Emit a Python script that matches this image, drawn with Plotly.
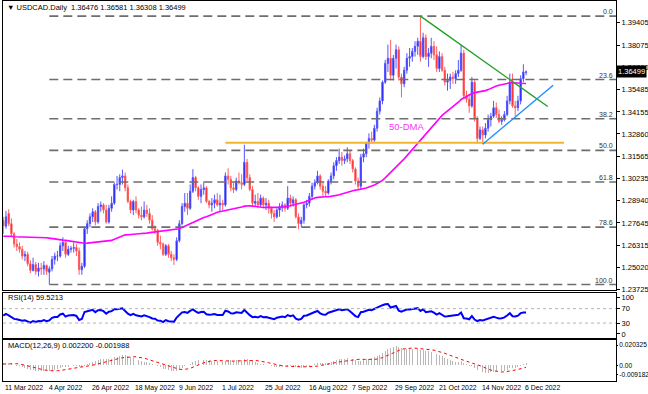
import numpy as np
import pandas as pd
import plotly.graph_objects as go

# ---------------- data ----------------
tick_labels = ["11 Mar 2022", "4 Apr 2022", "26 Apr 2022", "18 May 2022", "9 Jun 2022",
               "1 Jul 2022", "25 Jul 2022", "16 Aug 2022", "7 Sep 2022", "29 Sep 2022",
               "21 Oct 2022", "14 Nov 2022", "6 Dec 2022"]
tick_index = [0, 16, 32, 48, 64, 80, 96, 112, 128, 144, 160, 176, 192]

# closes before the first visible bar (used only to warm up the indicators)
warmup_closes = [1.2770, 1.2740, 1.2760, 1.2770, 1.2640, 1.2660, 1.2580, 1.2530, 1.2520, 1.2560,
                 1.2510, 1.2490, 1.2480, 1.2500, 1.2570, 1.2630, 1.2630, 1.2690, 1.2750, 1.2730,
                 1.2710, 1.2670, 1.2660, 1.2720, 1.2750, 1.2710, 1.2690, 1.2690, 1.2690, 1.2760,
                 1.2730, 1.2720, 1.2690, 1.2740, 1.2740, 1.2740, 1.2750, 1.2770, 1.2770, 1.2740,
                 1.2680, 1.2680, 1.2660, 1.2640, 1.2730, 1.2860, 1.2830, 1.2750, 1.2780]

opens = [1.2780, 1.2745, 1.2820, 1.2760, 1.2700, 1.2640, 1.2625, 1.2610, 1.2570, 1.2580,
         1.2525, 1.2485, 1.2520, 1.2480, 1.2500, 1.2495, 1.2515, 1.2475, 1.2495, 1.2550,
         1.2570, 1.2570, 1.2630, 1.2650, 1.2580, 1.2610, 1.2615, 1.2620, 1.2600, 1.2490,
         1.2510, 1.2730, 1.2760, 1.2800, 1.2830, 1.2770, 1.2860, 1.2870, 1.2840, 1.2770,
         1.2850, 1.2880, 1.2990, 1.2990, 1.3030, 1.3040, 1.2970, 1.2890, 1.2840, 1.2890,
         1.2840, 1.2810, 1.2800, 1.2840, 1.2820, 1.2780, 1.2730, 1.2720, 1.2650, 1.2640,
         1.2580, 1.2630, 1.2580, 1.2560, 1.2550, 1.2660, 1.2760, 1.2860, 1.2880, 1.2850,
         1.2950, 1.3030, 1.2970, 1.2920, 1.2960, 1.2970, 1.2890, 1.2870, 1.2880, 1.2900,
         1.2870, 1.2880, 1.2870, 1.3040, 1.3020, 1.2970, 1.2960, 1.3010, 1.3000, 1.2990,
         1.3120, 1.3030, 1.2960, 1.2880, 1.2890, 1.2870, 1.2910, 1.2870, 1.2880, 1.2850,
         1.2820, 1.2800, 1.2840, 1.2860, 1.2870, 1.2850, 1.2910, 1.2880, 1.2900, 1.2800,
         1.2760, 1.2780, 1.2870, 1.2880, 1.2920, 1.2980, 1.3000, 1.3040, 1.2980, 1.2950,
         1.2940, 1.3010, 1.3040, 1.3100, 1.3130, 1.3150, 1.3130, 1.3140, 1.3170, 1.3130,
         1.3080, 1.3010, 1.2980, 1.3150, 1.3170, 1.3230, 1.3260, 1.3250, 1.3320, 1.3420,
         1.3480, 1.3590, 1.3700, 1.3730, 1.3630, 1.3730, 1.3780, 1.3620, 1.3580, 1.3660,
         1.3730, 1.3740, 1.3770, 1.3800, 1.3830, 1.3740, 1.3850, 1.3740, 1.3760, 1.3800,
         1.3750, 1.3670, 1.3740, 1.3660, 1.3590, 1.3600, 1.3620, 1.3610, 1.3640, 1.3660,
         1.3760, 1.3510, 1.3490, 1.3450, 1.3590, 1.3380, 1.3260, 1.3310, 1.3280, 1.3320,
         1.3370, 1.3390, 1.3440, 1.3400, 1.3360, 1.3370, 1.3400, 1.3480, 1.3590, 1.3450,
         1.3440, 1.3480, 1.3610, 1.36476]

highs = [1.2800, 1.2835, 1.2845, 1.2790, 1.2710, 1.2670, 1.2650, 1.2630, 1.2600, 1.2595,
         1.2545, 1.2560, 1.2535, 1.2530, 1.2530, 1.2540, 1.2520, 1.2510, 1.2570, 1.2590,
         1.2600, 1.2650, 1.2680, 1.2665, 1.2630, 1.2630, 1.2650, 1.2640, 1.2620, 1.2530,
         1.2740, 1.2780, 1.2820, 1.2850, 1.2840, 1.2880, 1.2890, 1.2880, 1.2870, 1.2870,
         1.2920, 1.3000, 1.3040, 1.3050, 1.3077, 1.3060, 1.2990, 1.2900, 1.2900, 1.2920,
         1.2850, 1.2860, 1.2890, 1.2870, 1.2850, 1.2810, 1.2750, 1.2730, 1.2690, 1.2650,
         1.2640, 1.2640, 1.2600, 1.2580, 1.2680, 1.2780, 1.2880, 1.2940, 1.2940, 1.2990,
         1.3080, 1.3040, 1.2980, 1.2990, 1.3000, 1.2980, 1.2900, 1.2910, 1.2930, 1.2940,
         1.2930, 1.2900, 1.3060, 1.3085, 1.3040, 1.3000, 1.3030, 1.3060, 1.3050, 1.3223,
         1.3140, 1.3050, 1.2980, 1.2930, 1.2940, 1.2930, 1.2920, 1.2910, 1.2900, 1.2860,
         1.2840, 1.2850, 1.2880, 1.2890, 1.2880, 1.2980, 1.2930, 1.2920, 1.2910, 1.2820,
         1.2800, 1.2880, 1.2900, 1.2940, 1.3000, 1.3020, 1.3070, 1.3050, 1.3000, 1.2980,
         1.3020, 1.3060, 1.3120, 1.3150, 1.3200, 1.3180, 1.3160, 1.3208, 1.3190, 1.3140,
         1.3090, 1.3030, 1.3170, 1.3200, 1.3240, 1.3290, 1.3300, 1.3340, 1.3440, 1.3500,
         1.3600, 1.3720, 1.3810, 1.3838, 1.3750, 1.3810, 1.3800, 1.3640, 1.3680, 1.3760,
         1.3790, 1.3790, 1.3830, 1.3850, 1.3977, 1.3880, 1.3870, 1.3790, 1.3850, 1.3830,
         1.3800, 1.3770, 1.3760, 1.3680, 1.3640, 1.3640, 1.3650, 1.3660, 1.3720, 1.3808,
         1.3780, 1.3540, 1.3520, 1.3620, 1.3600, 1.3390, 1.3330, 1.3330, 1.3350, 1.3400,
         1.3410, 1.3480, 1.3470, 1.3430, 1.3390, 1.3420, 1.3510, 1.3640, 1.3640, 1.3480,
         1.3510, 1.3630, 1.3695, 1.36581]

lows = [1.2700, 1.2730, 1.2745, 1.2680, 1.2620, 1.2600, 1.2590, 1.2550, 1.2540, 1.2510,
        1.2470, 1.2480, 1.2460, 1.2450, 1.2460, 1.2460, 1.2460, 1.2403, 1.2480, 1.2520,
        1.2540, 1.2560, 1.2600, 1.2560, 1.2570, 1.2590, 1.2590, 1.2570, 1.2460, 1.2460,
        1.2500, 1.2700, 1.2740, 1.2770, 1.2750, 1.2760, 1.2830, 1.2820, 1.2760, 1.2760,
        1.2830, 1.2870, 1.2960, 1.2950, 1.2990, 1.2950, 1.2880, 1.2820, 1.2810, 1.2820,
        1.2790, 1.2780, 1.2790, 1.2800, 1.2760, 1.2720, 1.2700, 1.2630, 1.2610, 1.2570,
        1.2570, 1.2560, 1.2540, 1.2518, 1.2540, 1.2650, 1.2750, 1.2830, 1.2810, 1.2840,
        1.2940, 1.2950, 1.2900, 1.2880, 1.2930, 1.2880, 1.2850, 1.2830, 1.2850, 1.2860,
        1.2830, 1.2840, 1.2860, 1.2990, 1.2950, 1.2940, 1.2950, 1.2990, 1.2960, 1.2980,
        1.3010, 1.2950, 1.2860, 1.2860, 1.2850, 1.2860, 1.2850, 1.2840, 1.2820, 1.2790,
        1.2770, 1.2790, 1.2800, 1.2830, 1.2830, 1.2840, 1.2860, 1.2860, 1.2790, 1.2728,
        1.2740, 1.2760, 1.2850, 1.2860, 1.2900, 1.2960, 1.2990, 1.2960, 1.2920, 1.2920,
        1.2930, 1.2990, 1.3020, 1.3070, 1.3110, 1.3100, 1.3110, 1.3120, 1.3110, 1.3060,
        1.2990, 1.2955, 1.2960, 1.3120, 1.3150, 1.3200, 1.3230, 1.3240, 1.3300, 1.3400,
        1.3460, 1.3580, 1.3650, 1.3600, 1.3600, 1.3670, 1.3600, 1.3500, 1.3560, 1.3640,
        1.3680, 1.3710, 1.3740, 1.3750, 1.3710, 1.3730, 1.3720, 1.3680, 1.3730, 1.3720,
        1.3650, 1.3650, 1.3650, 1.3570, 1.3540, 1.3550, 1.3580, 1.3580, 1.3620, 1.3650,
        1.3490, 1.3470, 1.3410, 1.3440, 1.3360, 1.3230, 1.3250, 1.3226, 1.3260, 1.3300,
        1.3330, 1.3380, 1.3380, 1.3350, 1.3340, 1.3360, 1.3390, 1.3460, 1.3440, 1.3390,
        1.3420, 1.3460, 1.3590, 1.36308]

closes = [1.2745, 1.2800, 1.2760, 1.2700, 1.2640, 1.2625, 1.2610, 1.2570, 1.2580, 1.2525,
          1.2485, 1.2520, 1.2480, 1.2500, 1.2495, 1.2515, 1.2480, 1.2495, 1.2550, 1.2570,
          1.2570, 1.2630, 1.2650, 1.2580, 1.2610, 1.2615, 1.2620, 1.2600, 1.2490, 1.2510,
          1.2730, 1.2760, 1.2800, 1.2830, 1.2770, 1.2860, 1.2870, 1.2840, 1.2770, 1.2850,
          1.2880, 1.2990, 1.2990, 1.3030, 1.3040, 1.2970, 1.2890, 1.2840, 1.2890, 1.2840,
          1.2810, 1.2800, 1.2840, 1.2820, 1.2780, 1.2730, 1.2720, 1.2650, 1.2640, 1.2580,
          1.2630, 1.2580, 1.2560, 1.2550, 1.2660, 1.2760, 1.2860, 1.2880, 1.2850, 1.2950,
          1.3030, 1.2970, 1.2920, 1.2960, 1.2970, 1.2890, 1.2870, 1.2880, 1.2900, 1.2870,
          1.2880, 1.2870, 1.3040, 1.3020, 1.2970, 1.2960, 1.3010, 1.3000, 1.2990, 1.3120,
          1.3030, 1.2960, 1.2880, 1.2890, 1.2870, 1.2910, 1.2870, 1.2880, 1.2850, 1.2820,
          1.2800, 1.2840, 1.2860, 1.2870, 1.2850, 1.2910, 1.2880, 1.2900, 1.2800, 1.2760,
          1.2780, 1.2870, 1.2880, 1.2920, 1.2980, 1.3000, 1.3040, 1.2980, 1.2950, 1.2940,
          1.3010, 1.3040, 1.3100, 1.3130, 1.3150, 1.3130, 1.3140, 1.3170, 1.3130, 1.3080,
          1.3010, 1.2980, 1.3150, 1.3170, 1.3230, 1.3260, 1.3250, 1.3320, 1.3420, 1.3480,
          1.3590, 1.3700, 1.3730, 1.3630, 1.3730, 1.3780, 1.3620, 1.3580, 1.3660, 1.3730,
          1.3740, 1.3770, 1.3800, 1.3830, 1.3740, 1.3850, 1.3740, 1.3760, 1.3800, 1.3750,
          1.3670, 1.3740, 1.3660, 1.3590, 1.3600, 1.3620, 1.3610, 1.3640, 1.3660, 1.3760,
          1.3510, 1.3490, 1.3450, 1.3590, 1.3380, 1.3260, 1.3310, 1.3280, 1.3320, 1.3370,
          1.3390, 1.3440, 1.3400, 1.3360, 1.3370, 1.3400, 1.3480, 1.3590, 1.3450, 1.3440,
          1.3480, 1.3610, 1.3650, 1.36499]

header_text = "\u25bc USDCAD.Daily  1.36476 1.36581 1.36308 1.36499"
rsi_text = "RSI(14) 59.5213"
macd_text = "MACD(12,26,9) 0.002200 -0.001988"

fib_high, fib_low = 1.3977, 1.2403
fib_levels = [0.0, 23.6, 38.2, 50.0, 61.8, 78.6, 100.0]
fib_start_bar = 17

price_ticks = [1.39405, 1.38075, 1.36780, 1.35485, 1.34155, 1.32860, 1.31565,
               1.30235, 1.28940, 1.27645, 1.26315, 1.25020, 1.23725]
rsi_ticks = [100, 70, 30, 0]
macd_ticks = [0.020325, 0.0, -0.009182]
macd_ticktext = ["0.020325", "0.00", "-0.009182"]

support_price, support_from, support_to = 1.3234, 82, 207
down_trend_x, down_trend_y = [154, 201], [1.3977, 1.3447]
up_trend_x, up_trend_y = [177, 203], [1.3226, 1.3572]
dma_label_bar, dma_label_price = 149, 1.3331

# ---------------- indicators ----------------
n = len(closes)
W = len(warmup_closes)
all_c = pd.Series(warmup_closes + closes)
dma50 = all_c.rolling(50).mean().values[W:]

diff = all_c.diff().values[1:]
gain = np.where(diff > 0, diff, 0.0)
loss = np.where(diff < 0, -diff, 0.0)
ag, al = gain[:14].mean(), loss[:14].mean()
rsi_all = [np.nan] * 15
for g, l in zip(gain[14:], loss[14:]):
    ag = (ag * 13 + g) / 14
    al = (al * 13 + l) / 14
    rsi_all.append(100 - 100 / (1 + ag / al) if al > 0 else 100)
rsi = np.array(rsi_all)[W:]

ema12 = all_c.ewm(span=12, adjust=False).mean()
ema26 = all_c.ewm(span=26, adjust=False).mean()
macd_all = ema12 - ema26
signal_all = macd_all.rolling(9).mean()
macd = macd_all.values[W:]
signal = signal_all.values[W:]

x = list(range(n))

# ---------------- figure ----------------
fig = go.Figure()
fig.add_trace(go.Candlestick(
    x=x, open=opens, high=highs, low=lows, close=closes,
    increasing=dict(line=dict(color="#5555ff", width=1), fillcolor="#0000ff"),
    decreasing=dict(line=dict(color="#ff6060", width=1), fillcolor="#ff0000"),
    whiskerwidth=0, xaxis="x", yaxis="y", hoverinfo="skip"))
fig.add_trace(go.Scatter(x=x, y=dma50, mode="lines", line=dict(color="#ff00ff", width=1.6),
                         xaxis="x", yaxis="y", hoverinfo="skip"))
fig.add_trace(go.Scatter(x=x, y=rsi, mode="lines", line=dict(color="#0000ff", width=2),
                         xaxis="x2", yaxis="y2", hoverinfo="skip"))
fig.add_trace(go.Bar(x=x, y=macd, width=0.35, marker=dict(color="#b8b8b8", line=dict(width=0)),
                     xaxis="x3", yaxis="y3", hoverinfo="skip"))
fig.add_trace(go.Scatter(x=x, y=signal, mode="lines",
                         line=dict(color="#ff0000", width=1, dash="dot"),
                         xaxis="x3", yaxis="y3", hoverinfo="skip"))

shapes = []
rng = fib_high - fib_low
for lv in fib_levels:
    p = fib_high - rng * lv / 100.0
    shapes.append(dict(type="line", xref="x", yref="y", x0=fib_start_bar, x1=230, y0=p, y1=p,
                       line=dict(color="#6e6e6e", width=1.6, dash="9px,5px")))
shapes.append(dict(type="line", xref="x", yref="y", x0=support_from, x1=support_to,
                   y0=support_price, y1=support_price,
                   line=dict(color="#f2b62c", width=2)))
shapes.append(dict(type="line", xref="x", yref="y", x0=down_trend_x[0], x1=down_trend_x[1],
                   y0=down_trend_y[0], y1=down_trend_y[1], line=dict(color="#22a022", width=1.4)))
shapes.append(dict(type="line", xref="x", yref="y", x0=up_trend_x[0], x1=up_trend_x[1],
                   y0=up_trend_y[0], y1=up_trend_y[1], line=dict(color="#1e90ff", width=1.4)))
for lv in (70, 30):
    shapes.append(dict(type="line", xref="x2 domain", yref="y2", x0=0, x1=1, y0=lv, y1=lv,
                       line=dict(color="#b4b4b4", width=1, dash="dot")))

FONT = "Liberation Sans, Arial, sans-serif"
annotations = []
annotations.append(dict(xref="paper", yref="paper", x=0.003, y=0.984, xanchor="left",
                        yanchor="middle", text=header_text, showarrow=False,
                        font=dict(family=FONT, size=7.5, color="#000")))
annotations.append(dict(xref="paper", yref="paper", x=0.005, y=0.219, xanchor="left",
                        yanchor="middle", text=rsi_text, showarrow=False,
                        font=dict(family=FONT, size=7.5, color="#000")))
annotations.append(dict(xref="paper", yref="paper", x=0.005, y=0.094, xanchor="left",
                        yanchor="middle", text=macd_text, showarrow=False,
                        font=dict(family=FONT, size=7.5, color="#000")))
for lv in fib_levels:
    p = fib_high - rng * lv / 100.0
    annotations.append(dict(xref="paper", yref="y", x=0.997, y=p, xanchor="right",
                            yanchor="bottom", text=f"{lv:.1f}", showarrow=False,
                            font=dict(family=FONT, size=7, color="#333"), borderpad=0))
annotations.append(dict(xref="x", yref="y", x=dma_label_bar, y=dma_label_price, text="50-DMA",
                        showarrow=False, font=dict(family=FONT, size=9.5, color="#ff33ff")))
annotations.append(dict(xref="paper", yref="y", x=1.0, y=closes[-1], xanchor="left",
                        yanchor="middle", text=f"{closes[-1]:.5f}", showarrow=False,
                        bgcolor="#000000", borderpad=1,
                        font=dict(family=FONT, size=7.5, color="#ffffff")))
for i, lab in zip(tick_index, tick_labels):
    annotations.append(dict(xref="x3", yref="paper", x=i, y=-0.018, xanchor="left",
                            yanchor="middle", text=lab, showarrow=False,
                            font=dict(family=FONT, size=6.9, color="#000")))

XR = [-0.1, 226.2]
xcommon = dict(range=XR, showticklabels=False, showgrid=False, zeroline=False,
               showline=True, mirror=True, linecolor="#000", linewidth=1, ticks="",
               fixedrange=True)
ycommon = dict(side="right", showgrid=False, zeroline=False, showline=True, mirror=True,
               linecolor="#000", linewidth=1, ticks="outside", tickcolor="#000",
               automargin=False, fixedrange=True)

fig.update_layout(
    width=648, height=394, autosize=False,
    margin=dict(l=3, r=32, t=1, b=13),
    paper_bgcolor="#ffffff", plot_bgcolor="#ffffff", showlegend=False,
    bargap=0,
    xaxis=dict(anchor="y", domain=[0, 1], rangeslider=dict(visible=False), **xcommon),
    xaxis2=dict(anchor="y2", domain=[0, 1], matches="x", **xcommon),
    xaxis3=dict(anchor="y3", domain=[0, 1], matches="x", **xcommon),
    yaxis=dict(anchor="x", domain=[0.240, 1.0], range=[1.2372, 1.4066], ticklen=3,
               tickfont=dict(family=FONT, size=7.5, color="#000"),
               tickvals=price_ticks, ticktext=[f"{v:.5f}" for v in price_ticks], **ycommon),
    yaxis2=dict(anchor="x2", domain=[0.1135, 0.2322], range=[-11, 114], ticklen=3,
                tickfont=dict(family=FONT, size=7.5, color="#000"),
                tickvals=rsi_ticks, ticktext=[str(v) for v in rsi_ticks], **ycommon),
    yaxis3=dict(anchor="x3", domain=[0.0, 0.108], range=[-0.0159, 0.0254], ticklen=1,
                tickfont=dict(family=FONT, size=6.6, color="#000"),
                tickvals=macd_ticks, ticktext=macd_ticktext, **ycommon),
    shapes=shapes, annotations=annotations,
)

fig.write_html("out.html", config={"displayModeBar": False, "staticPlot": True},
               post_script="document.body.style.margin='0';document.body.style.overflow='hidden';")
